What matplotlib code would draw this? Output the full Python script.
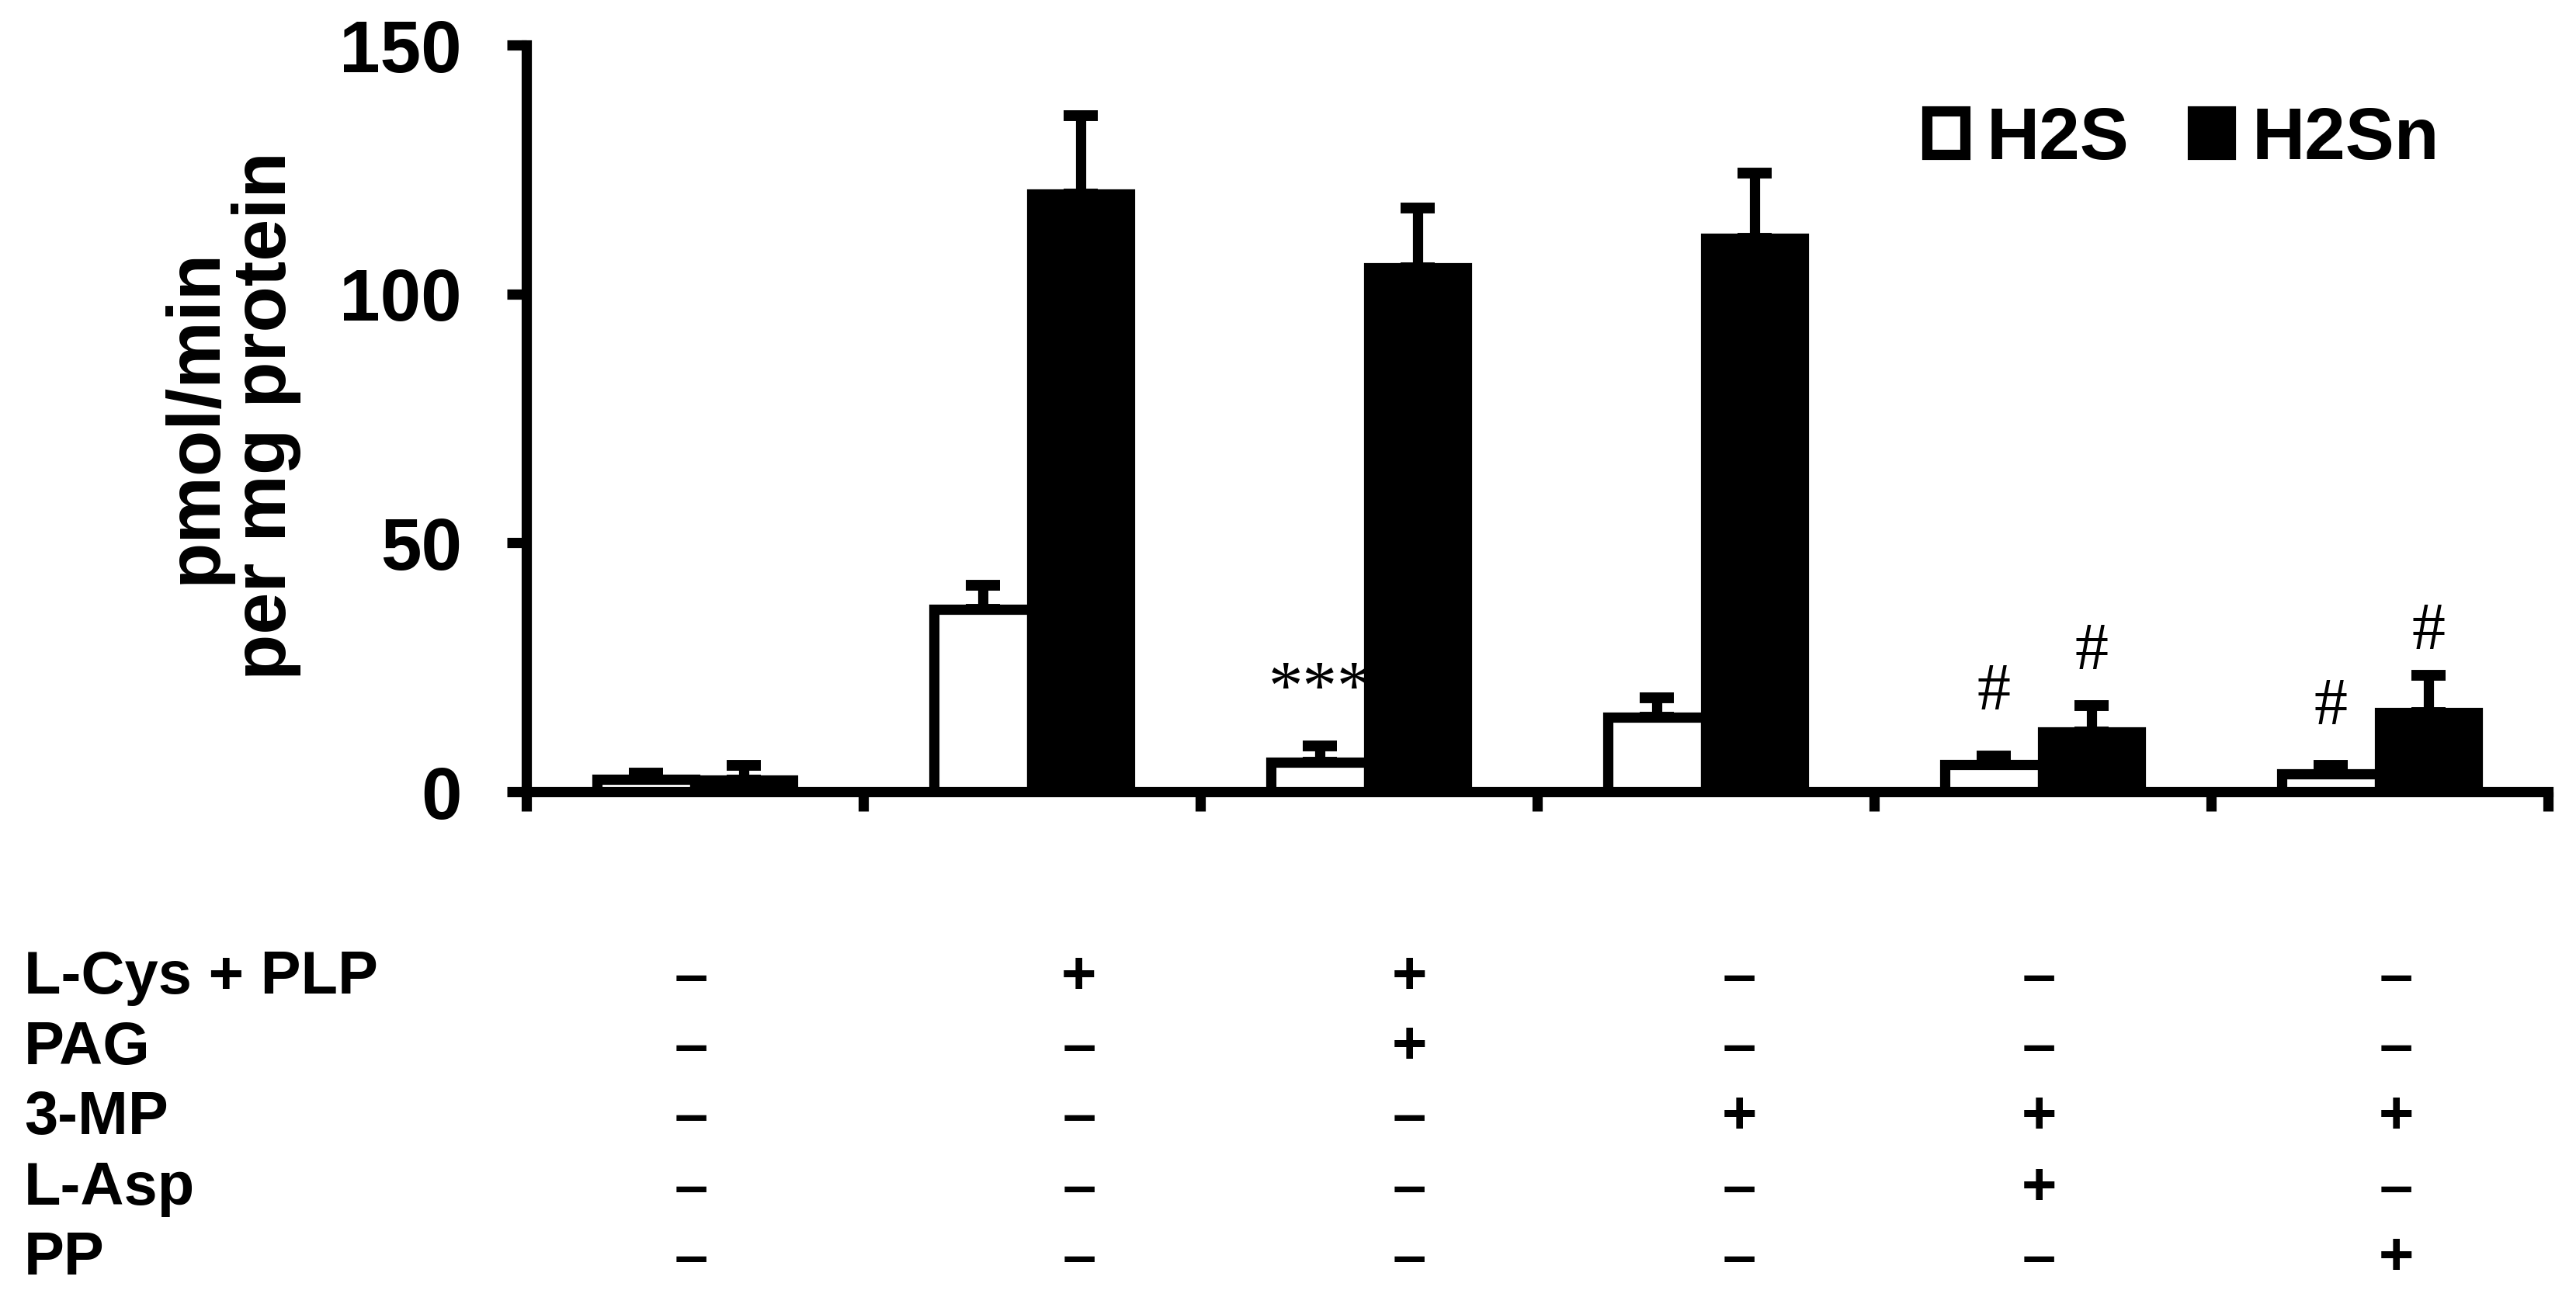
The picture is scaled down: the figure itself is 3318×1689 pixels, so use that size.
import numpy as np
import matplotlib
matplotlib.use("Agg")
import matplotlib.pyplot as plt
from matplotlib.transforms import blended_transform_factory

# ---------------- data ----------------
groups = [1, 2, 3, 4, 5, 6]
h2s = [2.5, 36.7, 5.9, 14.9, 5.4, 3.6]
h2s_err = [1.2, 4.8, 3.3, 4.0, 1.8, 1.7]
h2sn = [2.3, 120.0, 105.2, 111.1, 12.0, 15.9]
h2sn_err = [3.0, 15.8, 12.1, 13.1, 5.3, 7.5]
series_names = ["H2S", "H2Sn"]

yticks = [0, 50, 100, 150]
ylabel = "pmol/min\nper mg protein"

row_labels = ["L-Cys + PLP", "PAG", "3-MP", "L-Asp", "PP"]
row_signs = [
    ["–", "+", "+", "–", "–", "–"],
    ["–", "–", "+", "–", "–", "–"],
    ["–", "–", "–", "+", "+", "+"],
    ["–", "–", "–", "–", "+", "–"],
    ["–", "–", "–", "–", "–", "+"],
]

# annotations: (series index, group index, text)
annotations = [
    (0, 2, "***"),
    (0, 4, "#"),
    (1, 4, "#"),
    (0, 5, "#"),
    (1, 5, "#"),
]

# ---------------- layout / style ----------------
W, H = 3318, 1689
DPI = 100
bar_w = 0.29
LW = 9.5
sans = "Liberation Sans"
serif = "Liberation Serif"
sign_offsets = [-0.01, 0.14, 0.12, 0.10, -0.01, 0.05]
row_y_px = [1260, 1350, 1440, 1532, 1622]
annot_gap = [11.0, 12.5, 10.5, 11.5, 8.5]

fig = plt.figure(figsize=(W / DPI, H / DPI), dpi=DPI)
ax = fig.add_axes([678 / W, 1 - 1020 / H, (3282 - 678) / W, (1020 - 58) / H])

x = np.array(groups, dtype=float)
b1 = ax.bar(x - bar_w / 2, h2s, width=bar_w, color="white", edgecolor="black",
            linewidth=LW, zorder=3, label=series_names[0])
b2 = ax.bar(x + bar_w / 2, h2sn, width=bar_w, color="black", edgecolor="black",
            linewidth=LW, zorder=3, label=series_names[1])

for xs, vals, errs in [(x - bar_w / 2, h2s, h2s_err), (x + bar_w / 2, h2sn, h2sn_err)]:
    ax.errorbar(xs, vals, yerr=[np.zeros(len(errs)), errs], fmt="none",
                ecolor="black", elinewidth=LW, capsize=16, capthick=10, zorder=2)

ax.set_xlim(0.5, 6.5)
ax.set_ylim(0, 150)
ax.spines["top"].set_visible(False)
ax.spines["right"].set_visible(False)
for s in ["left", "bottom"]:
    ax.spines[s].set_linewidth(LW)
    ax.spines[s].set_capstyle("projecting")

ax.set_yticks(yticks)
ax.set_yticklabels([str(t) for t in yticks], fontfamily=sans, fontweight="bold", fontsize=68)
ax.tick_params(axis="y", direction="out", length=18, width=LW, pad=42)
ax.set_xticks(np.arange(0.5, 6.6, 1.0))
ax.set_xticklabels([])
ax.tick_params(axis="x", direction="out", length=18, width=LW)

# annotations
vals_all = [h2s, h2sn]
errs_all = [h2s_err, h2sn_err]
for (si, gi, txt), gap in zip(annotations, annot_gap):
    xc = groups[gi] + (-bar_w / 2 if si == 0 else bar_w / 2)
    yc = vals_all[si][gi] + errs_all[si][gi] + gap
    size = 64 if txt.startswith("*") else 62
    ax.text(xc, yc, txt, ha="center", va="center", fontfamily=serif, fontsize=size)

# legend
leg = fig.legend(handles=[b1, b2], labels=series_names, loc="center",
                 bbox_to_anchor=(2812 / W, 1 - 180 / H), ncol=2, frameon=False,
                 prop={"family": sans, "weight": "bold", "size": 68},
                 handlelength=0.52, handleheight=0.52, handletextpad=0.29,
                 columnspacing=0.86, borderpad=0, borderaxespad=0)

# y label
fig.text(298 / W, 1 - 536 / H, ylabel, rotation=90, ha="center", va="center",
         multialignment="center", fontfamily=sans, fontweight="bold", fontsize=70,
         linespacing=1.0)

# table below
trans = blended_transform_factory(ax.transData, fig.transFigure)
for r, (lab, signs) in enumerate(zip(row_labels, row_signs)):
    yf = 1 - row_y_px[r] / H
    fig.text(31 / W, yf, lab, ha="left", va="center", fontfamily=sans,
             fontweight="bold", fontsize=56)
    for g, sgn in enumerate(signs):
        ax.text(groups[g] + sign_offsets[g], yf, sgn, transform=trans, ha="center",
                va="center", fontfamily=sans, fontweight="bold", fontsize=56)

fig.savefig("out.png", dpi=DPI)
